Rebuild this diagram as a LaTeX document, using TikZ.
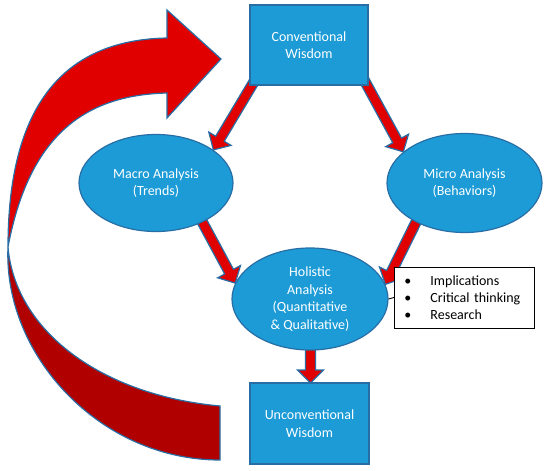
\documentclass[tikz,border=0pt]{standalone}
\usepackage{fontspec}
\setmainfont{Carlito}
\usetikzlibrary{shapes.geometric,calc}
\definecolor{boxblue}{RGB}{28,155,214}
\definecolor{edgeblue}{RGB}{40,110,165}
\definecolor{brightred}{RGB}{224,0,0}
\definecolor{darkred}{RGB}{176,0,0}
\pgfdeclarelayer{bg}
\pgfsetlayers{bg,main}
\tikzset{
  wisdom/.style={draw=edgeblue, fill=boxblue, line width=1.2pt, minimum width=118pt, minimum height=80pt, inner sep=0pt, text=white, align=center, font=\fontsize{14}{17.5}\selectfont},
  analysis/.style={ellipse, draw=edgeblue, fill=boxblue, line width=1.2pt, inner sep=0pt, text=white, align=center, font=\fontsize{14}{17.5}\selectfont},
  listbox/.style={draw=black, fill=white, line width=0.9pt, minimum width=140pt, minimum height=61pt, inner xsep=10pt, inner ysep=0pt, text width=120pt, align=left, font=\fontsize{14}{17}\selectfont},
  blockarrow/.style={fill=brightred, draw=edgeblue, line width=1.2pt, line join=miter},
}
\newcommand{\blockarr}[2]{%
  \coordinate (hb) at ($(#2)!13pt!(#1)$);
  \filldraw[blockarrow] ($(#1)!5pt!90:(#2)$) -- ($(hb)!5pt!90:(#2)$) -- ($(hb)!13pt!90:(#2)$) -- (#2)
    -- ($(hb)!13pt!-90:(#2)$) -- ($(hb)!5pt!-90:(#2)$) -- ($(#1)!5pt!-90:(#2)$) -- cycle;
}
\newcommand{\lb}{\makebox[26pt][l]{•}}
\begin{document}
\begin{tikzpicture}[x=1pt,y=-1pt]
\useasboundingbox (0,0) rectangle (550,471);
% nodes
\node[wisdom] (conv) at (309,45) {Conventional\\Wisdom};
\node[analysis, minimum width=154pt, minimum height=97pt] (macro) at (156,183) {Macro Analysis\\(Trends)};
\node[analysis, minimum width=155pt, minimum height=99pt] (micro) at (464.5,183) {Micro Analysis\\(Behaviors)};
\node[analysis, minimum width=156pt, minimum height=102pt] (holistic) at (310,299) {Holistic\\Analysis\\(Quantitative\\\& Qualitative)};
\node[wisdom, minimum width=119pt, minimum height=81pt] (uncon) at (309.5,423.5) {Unconventional\\Wisdom};
\node[listbox, anchor=west] (list) at (394,297.5) {\lb Implications\\\lb Critical thinking\\\lb Research};
\draw[line width=0.9pt] (holistic.east) -- (list.west);
% arrow start points inside the source shapes
\coordinate (s1) at (258,75);
\coordinate (s2) at (362,76);
\coordinate (s3) at (198,214);
\coordinate (s4) at (421,212);
\coordinate (s5) at (310.5,335);
\coordinate (t5) at (310.5,383);
\begin{pgfonlayer}{bg}
  \blockarr{s1}{macro.30}
  \blockarr{s2}{micro.153}
  \blockarr{s3}{holistic.168}
  \blockarr{s4}{holistic.11}
  \blockarr{s5}{t5}
  % big curved arrow: back (dark) band
  \filldraw[fill=darkred, draw=edgeblue, line width=1.2pt]
    (220,406) .. controls (100,395) and (15,330) .. (8,247)
    .. controls (3,355) and (100,460) .. (220,460) -- cycle;
  % front (bright) band with head
  \filldraw[fill=brightred, draw=edgeblue, line width=1.2pt, line join=miter]
    (8,247) .. controls (8,110) and (60,40) .. (167,38)
    -- (167,10) -- (221,59) -- (167,118) -- (167,93)
    .. controls (90,95) and (30,130) .. (8,247) -- cycle;
\end{pgfonlayer}
\end{tikzpicture}
\end{document}
